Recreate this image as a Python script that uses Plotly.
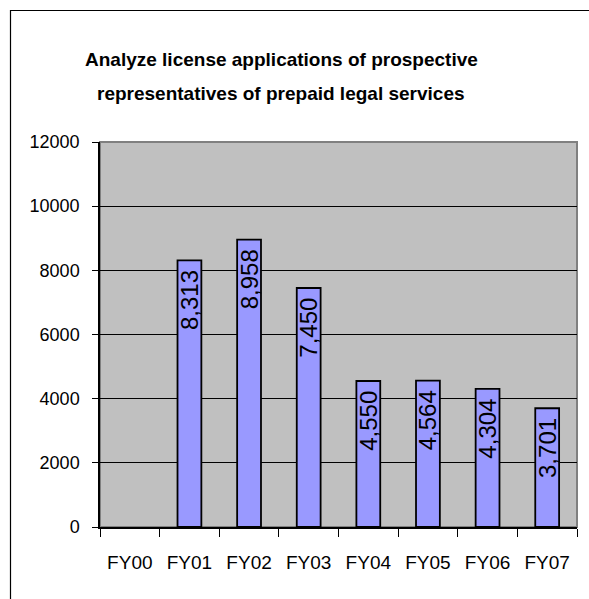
import plotly.graph_objects as go

# Fiscal years and number of license applications reviewed
years = ["FY00", "FY01", "FY02", "FY03", "FY04", "FY05", "FY06", "FY07"]
applications = [None, 8313, 8958, 7450, 4550, 4564, 4304, 3701]

y_ticks = [0, 2000, 4000, 6000, 8000, 10000, 12000]

title_lines = [
    "Analyze license applications of prospective",
    "representatives of prepaid legal services",
]

W, H = 589, 599
ML, MR, MT, MB = 100, 12, 142, 72
PW = W - ML - MR
PH = H - MT - MB


def px_x(px):
    return (px - ML) / PW


def px_y(py):
    return (H - MB - py) / PH


font_family = "Liberation Sans, Arial, sans-serif"

fig = go.Figure(
    go.Bar(
        x=years,
        y=applications,
        marker=dict(color="#9999FF", line=dict(color="#000000", width=1.8)),
        texttemplate="%{y:,}\u00a0",
        textposition="inside",
        insidetextanchor="end",
        textangle=-90,
        constraintext="none",
        textfont=dict(family=font_family, size=24, color="#000000"),
        hoverinfo="x+y",
    )
)

# two-line title, each line placed separately for wider line spacing
title_annotations = [
    dict(
        text=f"<b>{line}</b>",
        xref="paper", yref="paper",
        x=px_x(281), y=px_y(cy),
        xanchor="center", yanchor="middle",
        showarrow=False,
        font=dict(family=font_family, size=19, color="#000000"),
    )
    for line, cy in zip(title_lines, [60, 94])
]

fig.update_layout(
    width=W,
    height=H,
    margin=dict(l=ML, r=MR, t=MT, b=MB),
    paper_bgcolor="#FFFFFF",
    plot_bgcolor="#C0C0C0",
    bargap=0.6,
    showlegend=False,
    font=dict(family=font_family, size=18, color="#000000"),
    xaxis=dict(
        type="category",
        tickson="boundaries",
        ticks="outside",
        ticklen=8,
        tickcolor="#000000",
        tickwidth=1,
        tickangle=0,
        automargin=False,
        showline=True,
        linecolor="#000000",
        linewidth=1.5,
        showgrid=False,
        ticklabelstandoff=17,
        tickfont=dict(family=font_family, size=19),
    ),
    yaxis=dict(
        range=[0, 12000],
        tickvals=y_ticks,
        ticktext=[str(v) for v in y_ticks],
        ticks="outside",
        ticklen=6,
        tickcolor="#000000",
        automargin=False,
        showline=True,
        linecolor="#000000",
        linewidth=1.5,
        showgrid=True,
        gridcolor="#000000",
        gridwidth=1,
        zeroline=False,
        ticklabelstandoff=9,
        tickfont=dict(family=font_family, size=18),
    ),
    shapes=[
        # grey border of the plot area (top and right edges)
        dict(type="rect", xref="paper", yref="paper", x0=0, x1=1, y0=0, y1=1,
             line=dict(color="#808080", width=2), layer="below"),
        # chart area frame
        dict(type="rect", xref="paper", yref="paper",
             x0=px_x(10.5), x1=px_x(620), y0=px_y(640), y1=px_y(10.5),
             line=dict(color="#000000", width=1.2), layer="below"),
    ],
    annotations=title_annotations,
)

fig.write_html("out.html")
